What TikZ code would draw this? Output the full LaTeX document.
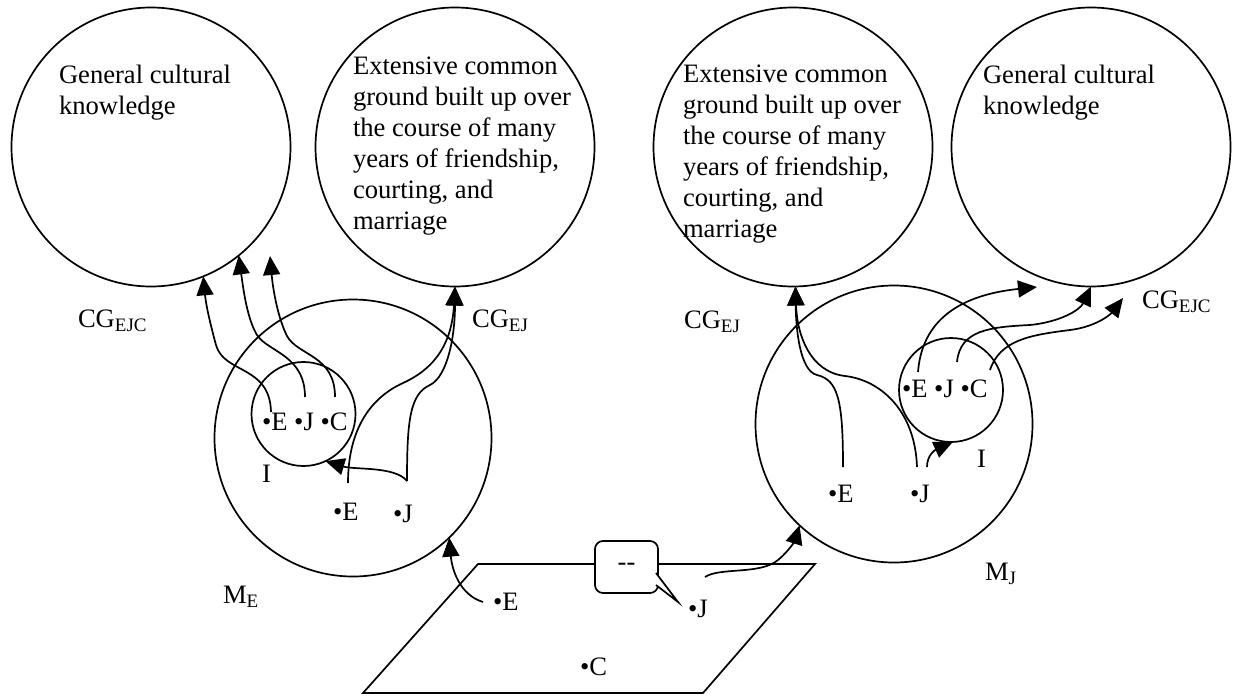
\documentclass[tikz,border=0pt]{standalone}
\usepackage{fontspec}
\setmainfont{Liberation Serif}
\usetikzlibrary{arrows.meta,calc}
\newcommand{\lowsub}[1]{\raisebox{-4pt}{\fontsize{19}{19}\selectfont #1}}
\begin{document}
\begin{tikzpicture}[x=1pt,y=-1pt,
  every node/.style={font=\fontsize{26.6}{31}\selectfont, inner sep=0pt, outer sep=0pt},
  ln/.style={line width=1.7pt},
  arr/.style={ln, -{Triangle[length=19pt,width=17pt]}},
  bigc/.style={draw, ln, circle, minimum size=279pt},
  midc/.style={draw, ln, circle, minimum size=277pt},
  smallc/.style={draw, ln, circle, minimum size=104pt},
  ctext/.style={anchor=north west, align=left},
  lbl/.style={anchor=base west},
  bubble/.style={draw, ln, fill=white, rounded corners=8pt, minimum width=63pt, minimum height=52pt}
]
\useasboundingbox (0,0) rectangle (1233,696);

% big circles
\node[bigc] (c1) at (151,147) {};
\node[bigc] (c2) at (455,147) {};
\node[bigc] (c3) at (793,147) {};
\node[bigc] (c4) at (1091,147) {};
% mental models
\node[midc] (me) at (353,438) {};
\node[midc] (mj) at (894,424) {};
\node[smallc] (il) at (303.5,414) {};
\node[smallc] (ir) at (951,390) {};

% circle texts
\node[ctext] (t1) at (59,61.3) {\strut General cultural\\knowledge};
\node[ctext] (t2) at (353,52.3) {\strut Extensive common\\ground built up over\\the course of many\\years of friendship,\\courting, and\\marriage};
\node[ctext] (t3) at (683,60.3) {\strut Extensive common\\ground built up over\\the course of many\\years of friendship,\\courting, and\\marriage};
\node[ctext] (t4) at (983,61.3) {\strut General cultural\\knowledge};

% labels
\node[lbl] (lcgejc) at (78,327) {CG\lowsub{EJC}};
\node[lbl] (lcgej) at (472,327) {CG\lowsub{EJ}};
\node[lbl] (rcgej) at (684,328) {CG\lowsub{EJ}};
\node[lbl] (rcgejc) at (1142,308) {CG\lowsub{EJC}};
\node[lbl] (lme) at (223,603) {M\lowsub{E}};
\node[lbl] (lmj) at (985,580) {M\lowsub{J}};

% left mental model contents
\node[lbl] (ilt) at (262,430) {•E •J •C};
\node[lbl] (ilI) at (262,482) {I};
\node[lbl] (meE) at (333,520) {•E};
\node[lbl] (meJ) at (393,522) {•J};
% right mental model contents
\node[lbl] (irt) at (902,397) {•E •J •C};
\node[lbl] (irI) at (977,467) {I};
\node[lbl] (mjE) at (828,502) {•E};
\node[lbl] (mjJ) at (910,502) {•J};

% situation plane
\draw[ln] (478,564) -- (815,564) -- (703,693) -- (363,693) -- cycle;
\node[lbl] (pE) at (493,610) {•E};
\node[lbl] (pJ) at (688,617) {•J};
\node[lbl] (pC) at (580,675) {•C};

% speech bubble
\node[bubble] (sp) at (626.5,567) {-{}-};
\coordinate (sptip) at (678,602);
\draw[ln, fill=white] (656,573) -- (sptip) -- (656,585);

% start points
\coordinate (sIlE) at (271,412);
\coordinate (sIlJ) at (305,397);
\coordinate (sIlC) at (335,397);
\coordinate (sMeE) at (348,483);
\coordinate (sMeJ) at (407,481);
\coordinate (sPE) at (483,602);
\coordinate (sPJ) at (705,577);
\coordinate (sMjE) at (843,467);
\coordinate (sMjJ) at (917,467);
\coordinate (sMjJb) at (927,467);
\coordinate (sIrE) at (918,372);
\coordinate (sIrJ) at (957,362);
\coordinate (sIrC) at (990,370);
% free ends
\coordinate (eL3) at (270,256);
\coordinate (eR5) at (1037,287);
\coordinate (eR7) at (1123,298);

% left connectors
\draw[arr] (sIlE) .. controls (270,365) and (224,374) .. (216,345) .. controls (210,323) and (206,305) .. (c1.-68);
\draw[arr] (sIlJ) .. controls (305,355) and (268,352) .. (257,335) .. controls (248,320) and (244,295) .. (c1.-51);
\draw[arr] (sIlC) .. controls (335,355) and (298,356) .. (287,336) .. controls (278,318) and (273,290) .. (eL3);
\draw[arr] (sMeE) .. controls (348,430) and (370,398) .. (403,383) .. controls (438,367) and (452,340) .. (c2.-90);
\draw[arr] (sMeJ) .. controls (407,420) and (410,394) .. (430,385) .. controls (448,376) and (455,335) .. (c2.-90);
\draw[arr] (sMeJ) .. controls (395,466) and (355,470) .. (il.-65);
\draw[arr] (sPE) .. controls (460,595) and (452,570) .. (me.-46);
% right connectors
\draw[arr] (sPJ) .. controls (720,567) and (760,575) .. (778,560) .. controls (790,550) and (795,540) .. (mj.-133);
\draw[arr] (sMjE) .. controls (843,400) and (838,380) .. (817,375) .. controls (800,371) and (796,330) .. (c3.-89);
\draw[arr] (sMjJ) .. controls (915,410) and (880,380) .. (845,376) .. controls (810,372) and (797,335) .. (c3.-89);
\draw[arr] (sMjJb) .. controls (927,455) and (935,450) .. (ir.-88);
\draw[arr] (sIrE) .. controls (922,320) and (960,295) .. (eR5);
\draw[arr] (sIrJ) .. controls (960,330) and (990,327) .. (1030,325) .. controls (1060,322) and (1080,310) .. (c4.-90);
\draw[arr] (sIrC) .. controls (1000,340) and (1030,335) .. (1070,330) .. controls (1095,327) and (1110,315) .. (eR7);
\end{tikzpicture}
\end{document}
